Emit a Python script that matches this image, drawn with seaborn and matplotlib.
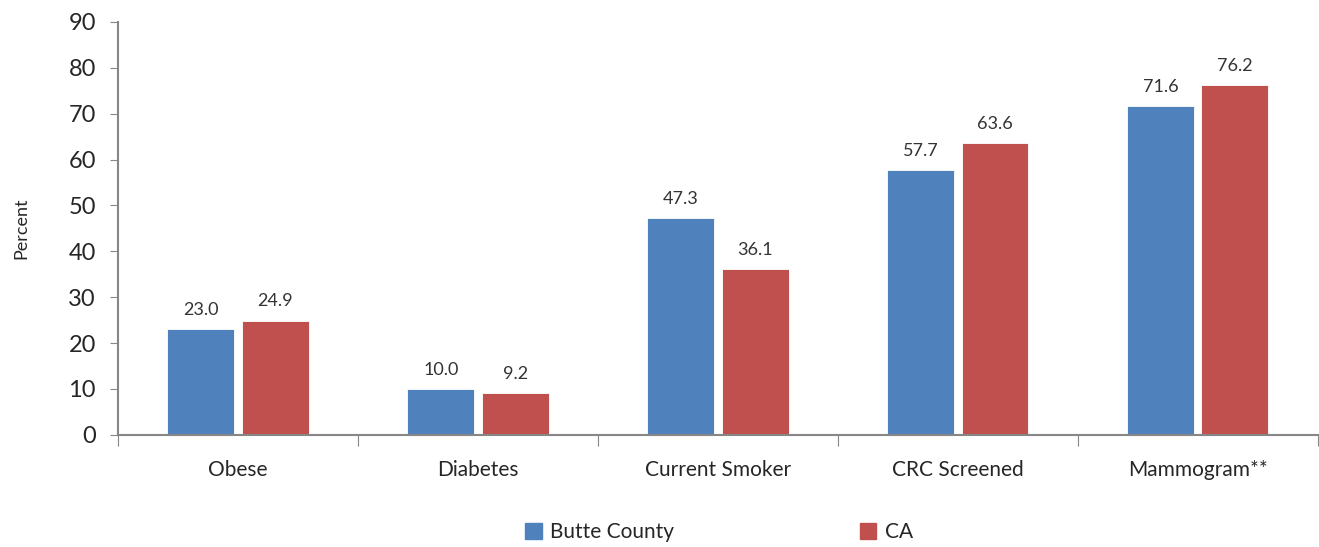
import pandas as pd
import matplotlib.pyplot as plt
import seaborn as sns

categories = ["Obese", "Diabetes", "Current Smoker", "CRC Screened", "Mammogram**"]
butte = [23.0, 10.0, 47.3, 57.7, 71.6]
ca = [24.9, 9.2, 36.1, 63.6, 76.2]
series = ["Butte County", "CA"]

df = pd.DataFrame({
    "category": categories * 2,
    "group": [series[0]] * len(categories) + [series[1]] * len(categories),
    "value": butte + ca,
})

sns.set_style("white")
plt.rcParams["font.family"] = ["Lato", "DejaVu Sans"]
plt.rcParams["text.color"] = "#262626"
plt.rcParams["xtick.color"] = "#262626"
plt.rcParams["ytick.color"] = "#262626"
plt.rcParams["axes.labelcolor"] = "#262626"

fig = plt.figure(figsize=(13.19, 5.47), dpi=100)
ax = fig.add_axes([0.0895, 0.205, 0.9095, 0.755])

sns.barplot(data=df, x="category", y="value", hue="group",
            palette=["#4F81BD", "#C0504D"], saturation=1, width=0.62, gap=0.1,
            edgecolor="white", linewidth=0.6, ax=ax, legend=False)

for c in ax.containers:
    ax.bar_label(c, fmt="%.1f", padding=8, fontsize=13, color="#333333")

ax.set_ylim(0, 90)
ax.set_xlim(-0.5, 4.5)
ax.set_yticks(range(0, 91, 10))
ax.tick_params(axis="y", labelsize=17, length=6, color="#868686", direction="out", pad=10, left=True)
ax.set_xticks([i - 0.5 for i in range(6)], minor=False)
ax.set_xticklabels([""] * 6)
ax.set_xticks(range(5), minor=True)
ax.set_xticklabels(categories, minor=True, fontsize=15)
ax.tick_params(axis="x", which="major", length=8, color="#868686", direction="out", bottom=True)
ax.tick_params(axis="x", which="minor", length=0, pad=18)
ax.set_xlabel("")
ax.set_ylabel("Percent", fontsize=13, labelpad=28)

for s in ["top", "right"]:
    ax.spines[s].set_visible(False)
for s in ["left", "bottom"]:
    ax.spines[s].set_color("#868686")
    ax.spines[s].set_linewidth(1.5)

handles = [plt.Rectangle((0, 0), 1, 1, color=col) for col in ["#4F81BD", "#C0504D"]]
fig.legend(handles, series, loc="lower center", bbox_to_anchor=(0.545, -0.025), ncol=2,
           frameon=False, fontsize=15, handlelength=0.8, handleheight=0.8,
           handletextpad=0.4, columnspacing=8.9)

fig.savefig("out.png", dpi=100)
